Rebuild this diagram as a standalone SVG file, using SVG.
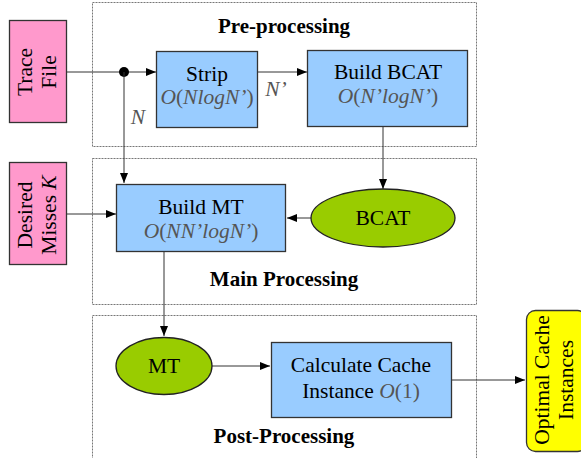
<svg xmlns="http://www.w3.org/2000/svg" width="581" height="458" viewBox="0 0 581 458">
<style>
text{font-family:"Liberation Serif","Times New Roman",serif;font-size:21.5px;fill:#000}
.b{font-weight:bold;font-size:21px}
.g{fill:#555}
.i{font-style:italic}
.stage{fill:none;stroke:#777;stroke-width:1;stroke-dasharray:2,1}
.proc{fill:#99ccff;stroke:#333;stroke-width:1.3}
.in{fill:#ff99cc;stroke:#333;stroke-width:1.3}
.data{fill:#99cc00;stroke:#222;stroke-width:1.3}
.out{fill:#ffff00;stroke:#333;stroke-width:1.3}
.c{fill:none;stroke:#333;stroke-width:1}
</style>
<defs>
<marker id="ah" markerWidth="10" markerHeight="8" refX="10" refY="4" orient="auto" markerUnits="userSpaceOnUse">
<path d="M0,0L10,4L0,8z" fill="#000"/>
</marker>
</defs>
<g id="stages">
<rect id="pre" class="stage" x="92.5" y="2.5" width="384" height="144"/>
<rect id="main" class="stage" x="92.5" y="158.5" width="384" height="146"/>
<rect id="post" class="stage" x="92.5" y="315.5" width="384" height="150"/>
<text class="b" x="284" y="33" text-anchor="middle">Pre-processing</text>
<text class="b" x="284" y="286" text-anchor="middle">Main Processing</text>
<text class="b" x="284" y="443" text-anchor="middle">Post-Processing</text>
</g>
<g id="connectors">
<line class="c" x1="66" y1="72" x2="156" y2="72" marker-end="url(#ah)"/>
<circle cx="124" cy="72" r="5" fill="#000"/>
<line class="c" x1="124" y1="72" x2="124" y2="183" marker-end="url(#ah)"/>
<line class="c" x1="257" y1="72" x2="307" y2="72" marker-end="url(#ah)"/>
<line class="c" x1="383" y1="127" x2="383" y2="189" marker-end="url(#ah)"/>
<line class="c" x1="311" y1="218" x2="287" y2="218" marker-end="url(#ah)"/>
<line class="c" x1="66" y1="214" x2="116" y2="214" marker-end="url(#ah)"/>
<line class="c" x1="164" y1="251" x2="164" y2="336" marker-end="url(#ah)"/>
<line class="c" x1="212" y1="366" x2="270" y2="366" marker-end="url(#ah)"/>
<line class="c" x1="451" y1="380" x2="525" y2="380" marker-end="url(#ah)"/>
<text class="g i" x="138" y="124" text-anchor="middle">N</text>
<text class="g i" x="276" y="96" text-anchor="middle">N’</text>
</g>
<g id="trace">
<rect class="in" x="9.5" y="20.5" width="57" height="102"/>
<text transform="translate(31.5,72) rotate(-90)" text-anchor="middle">Trace</text>
<text transform="translate(55.5,72) rotate(-90)" text-anchor="middle">File</text>
</g>
<g id="desired">
<rect class="in" x="9.5" y="162.5" width="57" height="102"/>
<text transform="translate(31.5,215) rotate(-90)" text-anchor="middle">Desired</text>
<text transform="translate(55.5,215) rotate(-90)" text-anchor="middle">Misses <tspan class="i">K</tspan></text>
</g>
<g id="strip">
<rect class="proc" x="156.5" y="51.5" width="101" height="76"/>
<text x="207" y="81" text-anchor="middle">Strip</text>
<text class="g" x="207" y="104" text-anchor="middle"><tspan class="i">O</tspan>(<tspan class="i">NlogN’</tspan>)</text>
</g>
<g id="buildbcat">
<rect class="proc" x="307.5" y="50.5" width="160" height="76"/>
<text x="388" y="79" text-anchor="middle">Build BCAT</text>
<text class="g" x="388" y="103" text-anchor="middle"><tspan class="i">O</tspan>(<tspan class="i">N’logN’</tspan>)</text>
</g>
<g id="buildmt">
<rect class="proc" x="116.5" y="184.5" width="169" height="67"/>
<text x="201" y="214" text-anchor="middle">Build MT</text>
<text class="g" x="201" y="238" text-anchor="middle"><tspan class="i">O</tspan>(<tspan class="i">NN’logN’</tspan>)</text>
</g>
<g id="bcat">
<ellipse class="data" cx="383" cy="218" rx="72" ry="29"/>
<text x="383" y="225" text-anchor="middle">BCAT</text>
</g>
<g id="mt">
<ellipse class="data" cx="164" cy="366" rx="48" ry="28.5"/>
<text x="164" y="373" text-anchor="middle">MT</text>
</g>
<g id="calc">
<rect class="proc" x="271.5" y="342.5" width="180" height="75"/>
<text x="361" y="372" text-anchor="middle">Calculate Cache</text>
<text x="361" y="398" text-anchor="middle">Instance <tspan class="i g">O</tspan><tspan class="g">(1)</tspan></text>
</g>
<g id="optimal">
<rect class="out" x="526.5" y="310.5" width="60" height="141" rx="9"/>
<text transform="translate(549,380) rotate(-90)" text-anchor="middle">Optimal Cache</text>
<text transform="translate(573,380) rotate(-90)" text-anchor="middle">Instances</text>
</g>
</svg>
